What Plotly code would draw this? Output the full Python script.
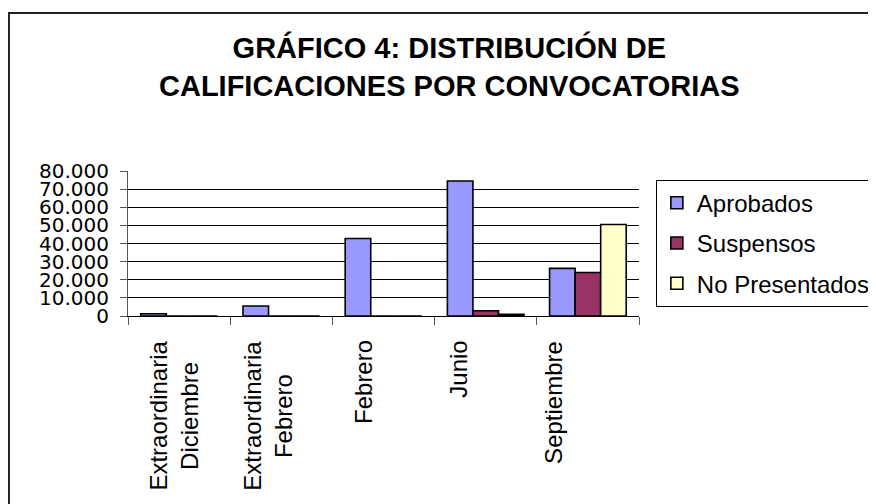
import plotly.graph_objects as go

categories = ["Extraordinaria Diciembre", "Extraordinaria Febrero", "Febrero", "Junio", "Septiembre"]
category_labels = ["Extraordinaria<br>Diciembre", "Extraordinaria<br>Febrero", "Febrero", "Junio", "Septiembre"]
aprobados = [1200, 5500, 42800, 74500, 26300]
suspensos = [0, 0, 0, 2900, 24000]
no_presentados = [0, 0, 0, 900, 50500]
series_names = ["Aprobados", "Suspensos", "No Presentados"]
series_colors = ["#9999FF", "#993366", "#FFFFCC"]
title_text = "<b>GRÁFICO 4: DISTRIBUCIÓN DE<br>CALIFICACIONES POR CONVOCATORIAS</b>"
y_ticks = [0, 10000, 20000, 30000, 40000, 50000, 60000, 70000, 80000]

FONT = "Liberation Sans, Arial, sans-serif"
TICK_FONT = "DejaVu Sans, sans-serif"

fig = go.Figure()
for name, vals, col in zip(series_names, [aprobados, suspensos, no_presentados], series_colors):
    fig.add_trace(go.Bar(
        x=categories, y=vals, name=name, legendgroup=name,
        marker=dict(color=col, line=dict(color="black", width=1.6)),
    ))

annotations = [dict(
    text=title_text, xref="paper", yref="paper", x=0.63, y=1.72,
    xanchor="center", yanchor="middle", showarrow=False,
    font=dict(family=FONT, size=29, color="black"), align="center",
)]
label_shifts = [-5, -13, -20, -27, -34]
for cat, lab, sh in zip(categories, category_labels, label_shifts):
    annotations.append(dict(
        text=lab, x=cat, xref="x", y=-0.155, yref="paper",
        xanchor="center", yanchor="top", textangle=-90, showarrow=False,
        xshift=sh, align="center",
        font=dict(family=FONT, size=24, color="black"),
    ))

fig.update_layout(
    width=876, height=504,
    margin=dict(l=120, r=245, t=163, b=196, autoexpand=False),
    paper_bgcolor="white", plot_bgcolor="white",
    separators=",.",
    barmode="group", bargap=0.25, bargroupgap=0,
    showlegend=True,
    legend=dict(
        x=1.033, y=0.94, xanchor="left", yanchor="top",
        bordercolor="black", borderwidth=1, bgcolor="white",
        font=dict(family=FONT, size=24, color="black"),
        tracegroupgap=6,
    ),
    annotations=annotations,
    shapes=[dict(
        type="rect", xref="paper", yref="paper",
        x0=-0.233, x1=1.6, y0=-2.0, y1=2.09,
        line=dict(color="#222222", width=2), layer="below",
    )],
    font=dict(family=FONT, color="black"),
)
fig.update_xaxes(
    type="category", showticklabels=False, ticks="outside", tickson="boundaries",
    ticklen=8, tickcolor="#555555", showline=True, linecolor="black", linewidth=1,
    showgrid=False,
)
fig.update_yaxes(
    range=[0, 80000], tickvals=y_ticks, tickformat=",d",
    ticks="outside", ticklen=7, tickcolor="#555555",
    showline=True, linecolor="#555555", linewidth=1,
    showgrid=True, gridcolor="black", gridwidth=1, zeroline=False,
    tickfont=dict(family=TICK_FONT, size=20, color="black"),
    ticklabelstandoff=7,
)

fig.write_html("out.html")
